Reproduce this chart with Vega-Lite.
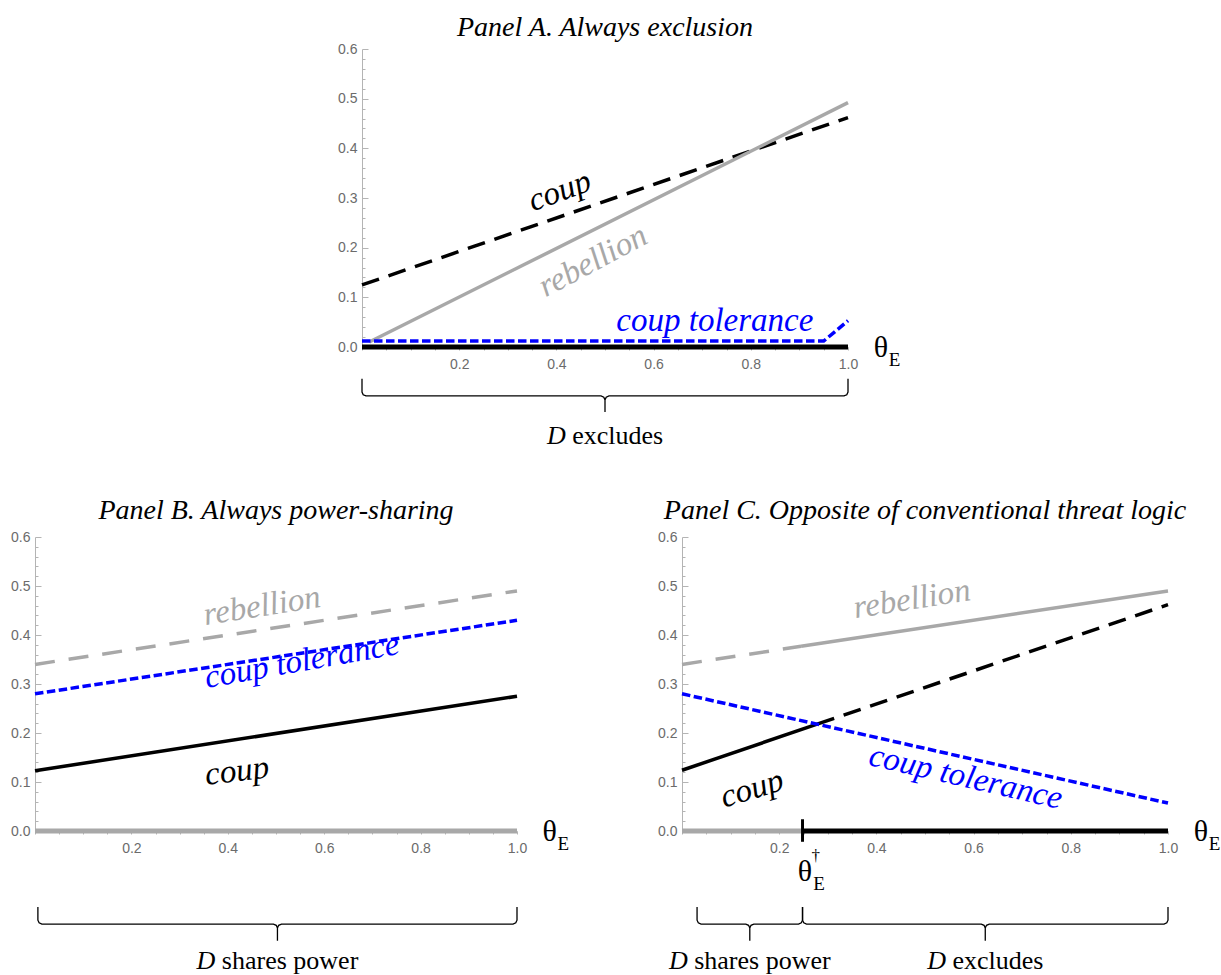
{
  "$schema": "https://vega.github.io/schema/vega-lite/v6.json",
  "padding": {"left": 10, "top": 14, "right": 5, "bottom": 0},
  "bounds": "flush",
  "spacing": 488,
  "config": {
    "view": {"stroke": null},
    "axis": {"grid": false, "domainColor": "#b4b4b4", "tickColor": "#b4b4b4", "labelColor": "#6b6b6b", "labelFont": "Liberation Sans", "labelFontSize": 14, "labelFlush": false, "labelOverlap": false},
    "title": {"font": "Liberation Serif", "fontStyle": "italic", "fontWeight": "normal", "fontSize": 28, "color": "black", "anchor": "middle", "frame": "group"},
    "text": {"font": "Liberation Serif"}
  },
  "datasets": {
    "lines": [
      {"panel":"A","series":"regime","path":"excludes","x":0,"y":0},
      {"panel":"A","series":"regime","path":"excludes","x":1,"y":0},
      {"panel":"A","series":"coup","path":"off","x":0,"y":0.125},
      {"panel":"A","series":"coup","path":"off","x":1,"y":0.462},
      {"panel":"A","series":"rebellion","path":"on","x":0.015,"y":0.01},
      {"panel":"A","series":"rebellion","path":"on","x":1,"y":0.492},
      {"panel":"A","series":"tolerance","path":"on","x":0,"y":0.012},
      {"panel":"A","series":"tolerance","path":"on","x":0.95,"y":0.012},
      {"panel":"A","series":"tolerance","path":"on","x":1,"y":0.053},
      {"panel":"B","series":"regime","path":"shares","x":0,"y":0},
      {"panel":"B","series":"regime","path":"shares","x":1,"y":0},
      {"panel":"B","series":"coup","path":"on","x":0,"y":0.123},
      {"panel":"B","series":"coup","path":"on","x":1,"y":0.275},
      {"panel":"B","series":"rebellion","path":"off","x":0,"y":0.34},
      {"panel":"B","series":"rebellion","path":"off","x":1,"y":0.49},
      {"panel":"B","series":"tolerance","path":"on","x":0,"y":0.28},
      {"panel":"B","series":"tolerance","path":"on","x":1,"y":0.43},
      {"panel":"C","series":"regime","path":"shares","x":0,"y":0},
      {"panel":"C","series":"regime","path":"shares","x":0.248,"y":0},
      {"panel":"C","series":"regime","path":"excludes","x":0.248,"y":0},
      {"panel":"C","series":"regime","path":"excludes","x":1,"y":0},
      {"panel":"C","series":"coup","path":"on","x":0,"y":0.124},
      {"panel":"C","series":"coup","path":"on","x":0.278,"y":0.218},
      {"panel":"C","series":"coup","path":"off","x":0.278,"y":0.218},
      {"panel":"C","series":"coup","path":"off","x":1,"y":0.462},
      {"panel":"C","series":"rebellion","path":"off","x":0,"y":0.34},
      {"panel":"C","series":"rebellion","path":"off","x":0.245,"y":0.377},
      {"panel":"C","series":"rebellion","path":"on","x":0.245,"y":0.377},
      {"panel":"C","series":"rebellion","path":"on","x":1,"y":0.49},
      {"panel":"C","series":"tolerance","path":"on","x":0,"y":0.28},
      {"panel":"C","series":"tolerance","path":"on","x":1,"y":0.057}
    ],
    "braces": [
      {"panel":"A","brace":1,"i":1,"x":0,"y":-0.064},
      {"panel":"A","brace":1,"i":2,"x":0,"y":-0.0906},
      {"panel":"A","brace":1,"i":3,"x":0.0025,"y":-0.0962},
      {"panel":"A","brace":1,"i":4,"x":0.0082,"y":-0.0986},
      {"panel":"A","brace":1,"i":5,"x":0.4918,"y":-0.0986},
      {"panel":"A","brace":1,"i":6,"x":0.4975,"y":-0.101},
      {"panel":"A","brace":1,"i":7,"x":0.5,"y":-0.1066},
      {"panel":"A","brace":1,"i":8,"x":0.5,"y":-0.1308},
      {"panel":"A","brace":1,"i":9,"x":0.5,"y":-0.1066},
      {"panel":"A","brace":1,"i":10,"x":0.5025,"y":-0.101},
      {"panel":"A","brace":1,"i":11,"x":0.5082,"y":-0.0986},
      {"panel":"A","brace":1,"i":12,"x":0.9918,"y":-0.0986},
      {"panel":"A","brace":1,"i":13,"x":0.9975,"y":-0.0962},
      {"panel":"A","brace":1,"i":14,"x":1,"y":-0.0906},
      {"panel":"A","brace":1,"i":15,"x":1,"y":-0.064},
      {"panel":"B","brace":1,"i":1,"x":0.006,"y":-0.155},
      {"panel":"B","brace":1,"i":2,"x":0.006,"y":-0.182},
      {"panel":"B","brace":1,"i":3,"x":0.0085,"y":-0.1875},
      {"panel":"B","brace":1,"i":4,"x":0.0143,"y":-0.19},
      {"panel":"B","brace":1,"i":5,"x":0.4947,"y":-0.19},
      {"panel":"B","brace":1,"i":6,"x":0.5005,"y":-0.1925},
      {"panel":"B","brace":1,"i":7,"x":0.503,"y":-0.198},
      {"panel":"B","brace":1,"i":8,"x":0.503,"y":-0.224},
      {"panel":"B","brace":1,"i":9,"x":0.503,"y":-0.198},
      {"panel":"B","brace":1,"i":10,"x":0.5055,"y":-0.1925},
      {"panel":"B","brace":1,"i":11,"x":0.5113,"y":-0.19},
      {"panel":"B","brace":1,"i":12,"x":0.9917,"y":-0.19},
      {"panel":"B","brace":1,"i":13,"x":0.9975,"y":-0.1875},
      {"panel":"B","brace":1,"i":14,"x":1,"y":-0.182},
      {"panel":"B","brace":1,"i":15,"x":1,"y":-0.155},
      {"panel":"C","brace":1,"i":1,"x":0.031,"y":-0.155},
      {"panel":"C","brace":1,"i":2,"x":0.031,"y":-0.182},
      {"panel":"C","brace":1,"i":3,"x":0.0335,"y":-0.1875},
      {"panel":"C","brace":1,"i":4,"x":0.0392,"y":-0.19},
      {"panel":"C","brace":1,"i":5,"x":0.1313,"y":-0.19},
      {"panel":"C","brace":1,"i":6,"x":0.137,"y":-0.1925},
      {"panel":"C","brace":1,"i":7,"x":0.1395,"y":-0.198},
      {"panel":"C","brace":1,"i":8,"x":0.1395,"y":-0.224},
      {"panel":"C","brace":1,"i":9,"x":0.1395,"y":-0.198},
      {"panel":"C","brace":1,"i":10,"x":0.142,"y":-0.1925},
      {"panel":"C","brace":1,"i":11,"x":0.1477,"y":-0.19},
      {"panel":"C","brace":1,"i":12,"x":0.2398,"y":-0.19},
      {"panel":"C","brace":1,"i":13,"x":0.2455,"y":-0.1875},
      {"panel":"C","brace":1,"i":14,"x":0.248,"y":-0.182},
      {"panel":"C","brace":1,"i":15,"x":0.248,"y":-0.155},
      {"panel":"C","brace":2,"i":1,"x":0.248,"y":-0.155},
      {"panel":"C","brace":2,"i":2,"x":0.248,"y":-0.182},
      {"panel":"C","brace":2,"i":3,"x":0.2505,"y":-0.1875},
      {"panel":"C","brace":2,"i":4,"x":0.2562,"y":-0.19},
      {"panel":"C","brace":2,"i":5,"x":0.6158,"y":-0.19},
      {"panel":"C","brace":2,"i":6,"x":0.6215,"y":-0.1925},
      {"panel":"C","brace":2,"i":7,"x":0.624,"y":-0.198},
      {"panel":"C","brace":2,"i":8,"x":0.624,"y":-0.224},
      {"panel":"C","brace":2,"i":9,"x":0.624,"y":-0.198},
      {"panel":"C","brace":2,"i":10,"x":0.6265,"y":-0.1925},
      {"panel":"C","brace":2,"i":11,"x":0.6322,"y":-0.19},
      {"panel":"C","brace":2,"i":12,"x":0.9918,"y":-0.19},
      {"panel":"C","brace":2,"i":13,"x":0.9975,"y":-0.1875},
      {"panel":"C","brace":2,"i":14,"x":1,"y":-0.182},
      {"panel":"C","brace":2,"i":15,"x":1,"y":-0.155}
    ],
    "regimeLabels": [
      {"panel":"A","regime":"excludes","x":0.5,"y":-0.179},
      {"panel":"B","regime":"shares power","x":0.503,"y":-0.265},
      {"panel":"C","regime":"shares power","x":0.1395,"y":-0.265},
      {"panel":"C","regime":"excludes","x":0.624,"y":-0.265}
    ],
    "curveLabels": [
      {"panel":"A","label":"coup","x":0.407,"y":0.314},
      {"panel":"A","label":"rebellion","x":0.475,"y":0.173},
      {"panel":"A","label":"coup tolerance","x":0.726,"y":0.052},
      {"panel":"B","label":"rebellion","x":0.471,"y":0.459},
      {"panel":"B","label":"coup tolerance","x":0.554,"y":0.347},
      {"panel":"B","label":"coup","x":0.419,"y":0.122},
      {"panel":"C","label":"rebellion","x":0.473,"y":0.473},
      {"panel":"C","label":"coup","x":0.144,"y":0.086},
      {"panel":"C","label":"coup tolerance","x":0.584,"y":0.11}
    ],
    "symbols": [
      {"panel":"A","sym":"θ","x":1.068,"y":-0.002},
      {"panel":"A","sym":"E","x":1.096,"y":-0.026},
      {"panel":"B","sym":"θ","x":1.068,"y":-0.002},
      {"panel":"B","sym":"E","x":1.096,"y":-0.026},
      {"panel":"C","sym":"θ","x":1.068,"y":-0.002},
      {"panel":"C","sym":"E","x":1.096,"y":-0.026},
      {"panel":"C","sym":"θ","x":0.253,"y":-0.084},
      {"panel":"C","sym":"E","x":0.282,"y":-0.108},
      {"panel":"C","sym":"†","x":0.275,"y":-0.05}
    ],
    "thresholds": [
      {"panel":"C","x":0.248,"y":-0.022,"y2":0.024}
    ]
  },
  "vconcat": [
    {
      "bounds": "flush",
      "spacing": 0,
      "hconcat": [
        {"width": 327, "height": 298, "data": {"values": []}, "mark": "point"},
        {
          "width": 486, "height": 298,
          "title": {"text": "Panel A. Always exclusion", "offset": 0},
          "encoding": {
            "x": {"field": "x", "type": "quantitative", "title": null, "scale": {"domain": [0, 1], "nice": false, "zero": false},
              "axis": {"values": [0,0.05,0.1,0.15,0.2,0.25,0.3,0.35,0.4,0.45,0.5,0.55,0.6,0.65,0.7,0.75,0.8,0.85,0.9,0.95,1], "labelExpr": "datum.value > 0 && round(datum.value*100) % 20 == 0 ? format(datum.value, '.1f') : ''", "tickSize": 3, "labelPadding": 7}},
            "y": {"field": "y", "type": "quantitative", "title": null, "scale": {"domain": [0, 0.6], "nice": false, "zero": false},
              "axis": {"values": [0,0.02,0.04,0.06,0.08,0.1,0.12,0.14,0.16,0.18,0.2,0.22,0.24,0.26,0.28,0.3,0.32,0.34,0.36,0.38,0.4,0.42,0.44,0.46,0.48,0.5,0.52,0.54,0.56,0.58,0.6], "labelExpr": "round(datum.value*100) % 10 == 0 ? format(datum.value, '.1f') : ''", "tickSize": {"condition": {"test": "round(datum.value*100) % 10 == 0", "value": -6}, "value": -3}, "labelPadding": 11}}
          },
          "layer": [
            {"data": {"name": "lines"}, "transform": [{"filter": "datum.panel == 'A' && datum.series == 'regime' && datum.path == 'shares'"}], "mark": {"type": "line", "color": "#a8a8a8", "strokeWidth": 5}},
            {"data": {"name": "lines"}, "transform": [{"filter": "datum.panel == 'A' && datum.series == 'regime' && datum.path == 'excludes'"}], "mark": {"type": "line", "color": "black", "strokeWidth": 5}},
            {"data": {"name": "lines"}, "transform": [{"filter": "datum.panel == 'A' && datum.series == 'coup' && datum.path == 'on'"}], "mark": {"type": "line", "color": "black", "strokeWidth": 3.5}},
            {"data": {"name": "lines"}, "transform": [{"filter": "datum.panel == 'A' && datum.series == 'coup' && datum.path == 'off'"}], "mark": {"type": "line", "color": "black", "strokeWidth": 3.5, "strokeDash": [18, 10]}},
            {"data": {"name": "lines"}, "transform": [{"filter": "datum.panel == 'A' && datum.series == 'rebellion' && datum.path == 'on'"}], "mark": {"type": "line", "color": "#a8a8a8", "strokeWidth": 3.5}},
            {"data": {"name": "lines"}, "transform": [{"filter": "datum.panel == 'A' && datum.series == 'rebellion' && datum.path == 'off'"}], "mark": {"type": "line", "color": "#a8a8a8", "strokeWidth": 3.5, "strokeDash": [20, 14]}},
            {"data": {"name": "lines"}, "transform": [{"filter": "datum.panel == 'A' && datum.series == 'tolerance'"}], "mark": {"type": "line", "color": "blue", "strokeWidth": 3.5, "strokeDash": [8.5, 3.5]}},
            {"data": {"name": "braces"}, "transform": [{"filter": "datum.panel == 'A'"}], "mark": {"type": "line", "color": "black", "strokeWidth": 1.3}, "encoding": {"order": {"field": "i", "type": "quantitative"}, "detail": {"field": "brace"}}},
            {"data": {"name": "regimeLabels"}, "transform": [{"filter": "datum.panel == 'A' && datum.regime == 'excludes'"}], "mark": {"type": "text", "text": "D", "fontStyle": "italic", "fontSize": 26, "align": "right", "baseline": "middle", "dx": -39.3, "color": "black"}},
            {"data": {"name": "regimeLabels"}, "transform": [{"filter": "datum.panel == 'A' && datum.regime == 'excludes'"}], "mark": {"type": "text", "fontSize": 26, "align": "left", "baseline": "middle", "dx": -32.8, "color": "black"}, "encoding": {"text": {"field": "regime"}}},
            {"data": {"name": "curveLabels"}, "transform": [{"filter": "datum.panel == 'A' && datum.label == 'coup'"}], "mark": {"type": "text", "fontStyle": "italic", "fontSize": 33, "baseline": "middle", "angle": 340, "color": "black"}, "encoding": {"text": {"field": "label"}}},
            {"data": {"name": "curveLabels"}, "transform": [{"filter": "datum.panel == 'A' && datum.label == 'rebellion'"}], "mark": {"type": "text", "fontStyle": "italic", "fontSize": 33, "baseline": "middle", "angle": 332, "color": "#a8a8a8"}, "encoding": {"text": {"field": "label"}}},
            {"data": {"name": "curveLabels"}, "transform": [{"filter": "datum.panel == 'A' && datum.label == 'coup tolerance'"}], "mark": {"type": "text", "fontStyle": "italic", "fontSize": 33, "baseline": "middle", "angle": 0, "color": "blue"}, "encoding": {"text": {"field": "label"}}},
            {"data": {"name": "symbols"}, "transform": [{"filter": "datum.panel == 'A' && datum.sym == 'θ'"}], "mark": {"type": "text", "fontSize": 30, "baseline": "middle", "color": "black"}, "encoding": {"text": {"field": "sym"}}},
            {"data": {"name": "symbols"}, "transform": [{"filter": "datum.panel == 'A' && datum.sym == 'E'"}], "mark": {"type": "text", "fontSize": 19, "baseline": "middle", "color": "black"}, "encoding": {"text": {"field": "sym"}}}
          ]
        }
      ]
    },
    {
      "bounds": "flush",
      "spacing": 165,
      "hconcat": [
        {
          "width": 482, "height": 294,
          "title": {"text": "Panel B. Always power-sharing", "offset": 5},
          "encoding": {
            "x": {"field": "x", "type": "quantitative", "title": null, "scale": {"domain": [0, 1], "nice": false, "zero": false},
              "axis": {"values": [0,0.05,0.1,0.15,0.2,0.25,0.3,0.35,0.4,0.45,0.5,0.55,0.6,0.65,0.7,0.75,0.8,0.85,0.9,0.95,1], "labelExpr": "datum.value > 0 && round(datum.value*100) % 20 == 0 ? format(datum.value, '.1f') : ''", "tickSize": 3, "labelPadding": 7}},
            "y": {"field": "y", "type": "quantitative", "title": null, "scale": {"domain": [0, 0.6], "nice": false, "zero": false},
              "axis": {"values": [0,0.02,0.04,0.06,0.08,0.1,0.12,0.14,0.16,0.18,0.2,0.22,0.24,0.26,0.28,0.3,0.32,0.34,0.36,0.38,0.4,0.42,0.44,0.46,0.48,0.5,0.52,0.54,0.56,0.58,0.6], "labelExpr": "round(datum.value*100) % 10 == 0 ? format(datum.value, '.1f') : ''", "tickSize": {"condition": {"test": "round(datum.value*100) % 10 == 0", "value": -6}, "value": -3}, "labelPadding": 11}}
          },
          "layer": [
            {"data": {"name": "lines"}, "transform": [{"filter": "datum.panel == 'B' && datum.series == 'regime' && datum.path == 'shares'"}], "mark": {"type": "line", "color": "#a8a8a8", "strokeWidth": 5}},
            {"data": {"name": "lines"}, "transform": [{"filter": "datum.panel == 'B' && datum.series == 'regime' && datum.path == 'excludes'"}], "mark": {"type": "line", "color": "black", "strokeWidth": 5}},
            {"data": {"name": "lines"}, "transform": [{"filter": "datum.panel == 'B' && datum.series == 'coup' && datum.path == 'on'"}], "mark": {"type": "line", "color": "black", "strokeWidth": 3.5}},
            {"data": {"name": "lines"}, "transform": [{"filter": "datum.panel == 'B' && datum.series == 'coup' && datum.path == 'off'"}], "mark": {"type": "line", "color": "black", "strokeWidth": 3.5, "strokeDash": [18, 10]}},
            {"data": {"name": "lines"}, "transform": [{"filter": "datum.panel == 'B' && datum.series == 'rebellion' && datum.path == 'on'"}], "mark": {"type": "line", "color": "#a8a8a8", "strokeWidth": 3.5}},
            {"data": {"name": "lines"}, "transform": [{"filter": "datum.panel == 'B' && datum.series == 'rebellion' && datum.path == 'off'"}], "mark": {"type": "line", "color": "#a8a8a8", "strokeWidth": 3.5, "strokeDash": [20, 14]}},
            {"data": {"name": "lines"}, "transform": [{"filter": "datum.panel == 'B' && datum.series == 'tolerance'"}], "mark": {"type": "line", "color": "blue", "strokeWidth": 3.5, "strokeDash": [8.5, 3.5]}},
            {"data": {"name": "braces"}, "transform": [{"filter": "datum.panel == 'B'"}], "mark": {"type": "line", "color": "black", "strokeWidth": 1.3}, "encoding": {"order": {"field": "i", "type": "quantitative"}, "detail": {"field": "brace"}}},
            {"data": {"name": "regimeLabels"}, "transform": [{"filter": "datum.panel == 'B' && datum.regime == 'shares power'"}], "mark": {"type": "text", "text": "D", "fontStyle": "italic", "fontSize": 26, "align": "right", "baseline": "middle", "dx": -62.1, "color": "black"}},
            {"data": {"name": "regimeLabels"}, "transform": [{"filter": "datum.panel == 'B' && datum.regime == 'shares power'"}], "mark": {"type": "text", "fontSize": 26, "align": "left", "baseline": "middle", "dx": -55.6, "color": "black"}, "encoding": {"text": {"field": "regime"}}},
            {"data": {"name": "curveLabels"}, "transform": [{"filter": "datum.panel == 'B' && datum.label == 'rebellion'"}], "mark": {"type": "text", "fontStyle": "italic", "fontSize": 33, "baseline": "middle", "angle": 351, "color": "#a8a8a8"}, "encoding": {"text": {"field": "label"}}},
            {"data": {"name": "curveLabels"}, "transform": [{"filter": "datum.panel == 'B' && datum.label == 'coup tolerance'"}], "mark": {"type": "text", "fontStyle": "italic", "fontSize": 33, "baseline": "middle", "angle": 350, "color": "blue"}, "encoding": {"text": {"field": "label"}}},
            {"data": {"name": "curveLabels"}, "transform": [{"filter": "datum.panel == 'B' && datum.label == 'coup'"}], "mark": {"type": "text", "fontStyle": "italic", "fontSize": 33, "baseline": "middle", "angle": 353, "color": "black"}, "encoding": {"text": {"field": "label"}}},
            {"data": {"name": "symbols"}, "transform": [{"filter": "datum.panel == 'B' && datum.sym == 'θ'"}], "mark": {"type": "text", "fontSize": 30, "baseline": "middle", "color": "black"}, "encoding": {"text": {"field": "sym"}}},
            {"data": {"name": "symbols"}, "transform": [{"filter": "datum.panel == 'B' && datum.sym == 'E'"}], "mark": {"type": "text", "fontSize": 19, "baseline": "middle", "color": "black"}, "encoding": {"text": {"field": "sym"}}}
          ]
        },
        {
          "width": 486, "height": 294,
          "title": {"text": "Panel C. Opposite of conventional threat logic", "offset": 5},
          "encoding": {
            "x": {"field": "x", "type": "quantitative", "title": null, "scale": {"domain": [0, 1], "nice": false, "zero": false},
              "axis": {"values": [0,0.05,0.1,0.15,0.2,0.25,0.3,0.35,0.4,0.45,0.5,0.55,0.6,0.65,0.7,0.75,0.8,0.85,0.9,0.95,1], "labelExpr": "datum.value > 0 && round(datum.value*100) % 20 == 0 ? format(datum.value, '.1f') : ''", "tickSize": 3, "labelPadding": 7}},
            "y": {"field": "y", "type": "quantitative", "title": null, "scale": {"domain": [0, 0.6], "nice": false, "zero": false},
              "axis": {"values": [0,0.02,0.04,0.06,0.08,0.1,0.12,0.14,0.16,0.18,0.2,0.22,0.24,0.26,0.28,0.3,0.32,0.34,0.36,0.38,0.4,0.42,0.44,0.46,0.48,0.5,0.52,0.54,0.56,0.58,0.6], "labelExpr": "round(datum.value*100) % 10 == 0 ? format(datum.value, '.1f') : ''", "tickSize": {"condition": {"test": "round(datum.value*100) % 10 == 0", "value": -6}, "value": -3}, "labelPadding": 11}}
          },
          "layer": [
            {"data": {"name": "lines"}, "transform": [{"filter": "datum.panel == 'C' && datum.series == 'regime' && datum.path == 'shares'"}], "mark": {"type": "line", "color": "#a8a8a8", "strokeWidth": 5}},
            {"data": {"name": "lines"}, "transform": [{"filter": "datum.panel == 'C' && datum.series == 'regime' && datum.path == 'excludes'"}], "mark": {"type": "line", "color": "black", "strokeWidth": 5}},
            {"data": {"name": "lines"}, "transform": [{"filter": "datum.panel == 'C' && datum.series == 'coup' && datum.path == 'on'"}], "mark": {"type": "line", "color": "black", "strokeWidth": 3.5}},
            {"data": {"name": "lines"}, "transform": [{"filter": "datum.panel == 'C' && datum.series == 'coup' && datum.path == 'off'"}], "mark": {"type": "line", "color": "black", "strokeWidth": 3.5, "strokeDash": [18, 10]}},
            {"data": {"name": "lines"}, "transform": [{"filter": "datum.panel == 'C' && datum.series == 'rebellion' && datum.path == 'on'"}], "mark": {"type": "line", "color": "#a8a8a8", "strokeWidth": 3.5}},
            {"data": {"name": "lines"}, "transform": [{"filter": "datum.panel == 'C' && datum.series == 'rebellion' && datum.path == 'off'"}], "mark": {"type": "line", "color": "#a8a8a8", "strokeWidth": 3.5, "strokeDash": [20, 14]}},
            {"data": {"name": "lines"}, "transform": [{"filter": "datum.panel == 'C' && datum.series == 'tolerance'"}], "mark": {"type": "line", "color": "blue", "strokeWidth": 3.5, "strokeDash": [8.5, 3.5]}},
            {"data": {"name": "thresholds"}, "transform": [{"filter": "datum.panel == 'C'"}], "mark": {"type": "rule", "color": "black", "strokeWidth": 3}, "encoding": {"y2": {"field": "y2"}}},
            {"data": {"name": "braces"}, "transform": [{"filter": "datum.panel == 'C'"}], "mark": {"type": "line", "color": "black", "strokeWidth": 1.3}, "encoding": {"order": {"field": "i", "type": "quantitative"}, "detail": {"field": "brace"}}},
            {"data": {"name": "regimeLabels"}, "transform": [{"filter": "datum.panel == 'C' && datum.regime == 'shares power'"}], "mark": {"type": "text", "text": "D", "fontStyle": "italic", "fontSize": 26, "align": "right", "baseline": "middle", "dx": -62.1, "color": "black"}},
            {"data": {"name": "regimeLabels"}, "transform": [{"filter": "datum.panel == 'C' && datum.regime == 'shares power'"}], "mark": {"type": "text", "fontSize": 26, "align": "left", "baseline": "middle", "dx": -55.6, "color": "black"}, "encoding": {"text": {"field": "regime"}}},
            {"data": {"name": "regimeLabels"}, "transform": [{"filter": "datum.panel == 'C' && datum.regime == 'excludes'"}], "mark": {"type": "text", "text": "D", "fontStyle": "italic", "fontSize": 26, "align": "right", "baseline": "middle", "dx": -39.3, "color": "black"}},
            {"data": {"name": "regimeLabels"}, "transform": [{"filter": "datum.panel == 'C' && datum.regime == 'excludes'"}], "mark": {"type": "text", "fontSize": 26, "align": "left", "baseline": "middle", "dx": -32.8, "color": "black"}, "encoding": {"text": {"field": "regime"}}},
            {"data": {"name": "curveLabels"}, "transform": [{"filter": "datum.panel == 'C' && datum.label == 'rebellion'"}], "mark": {"type": "text", "fontStyle": "italic", "fontSize": 33, "baseline": "middle", "angle": 351, "color": "#a8a8a8"}, "encoding": {"text": {"field": "label"}}},
            {"data": {"name": "curveLabels"}, "transform": [{"filter": "datum.panel == 'C' && datum.label == 'coup'"}], "mark": {"type": "text", "fontStyle": "italic", "fontSize": 33, "baseline": "middle", "angle": 343, "color": "black"}, "encoding": {"text": {"field": "label"}}},
            {"data": {"name": "curveLabels"}, "transform": [{"filter": "datum.panel == 'C' && datum.label == 'coup tolerance'"}], "mark": {"type": "text", "fontStyle": "italic", "fontSize": 33, "baseline": "middle", "angle": 13, "color": "blue"}, "encoding": {"text": {"field": "label"}}},
            {"data": {"name": "symbols"}, "transform": [{"filter": "datum.panel == 'C' && datum.sym == 'θ'"}], "mark": {"type": "text", "fontSize": 30, "baseline": "middle", "color": "black"}, "encoding": {"text": {"field": "sym"}}},
            {"data": {"name": "symbols"}, "transform": [{"filter": "datum.panel == 'C' && datum.sym == 'E'"}], "mark": {"type": "text", "fontSize": 19, "baseline": "middle", "color": "black"}, "encoding": {"text": {"field": "sym"}}},
            {"data": {"name": "symbols"}, "transform": [{"filter": "datum.panel == 'C' && datum.sym == '†'"}], "mark": {"type": "text", "fontSize": 17, "baseline": "middle", "color": "black"}, "encoding": {"text": {"field": "sym"}}}
          ]
        }
      ]
    }
  ]
}
